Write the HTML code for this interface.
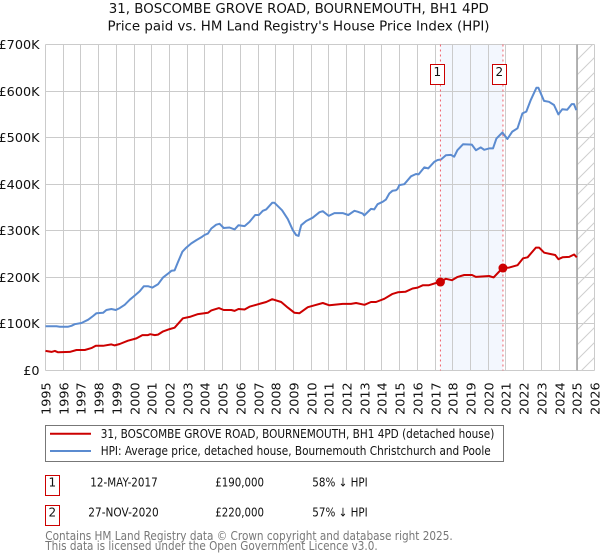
<!DOCTYPE html>
<html lang="en">
<head>
<meta charset="utf-8">
<title>31, Boscombe Grove Road price chart</title>
<style>
html,body{margin:0;padding:0;background:#fff;width:600px;height:560px;overflow:hidden}
svg{display:block}
text{font-family:"DejaVu Sans","Liberation Sans",sans-serif;fill:#111}
</style>
</head>
<body>
<svg id="chart" width="600" height="560" viewBox="0 0 600 560" xmlns="http://www.w3.org/2000/svg">
  <defs>
    <pattern id="hatch" width="15" height="15" patternUnits="userSpaceOnUse" patternTransform="translate(578 44)">
      <path d="M-1 16L16 -1M-1 1L1 -1M14 16L16 14" stroke="#cfcfcf" stroke-width="1" fill="none"/>
    </pattern>
  </defs>
  <text x="298.8" y="13" font-size="13" text-anchor="middle" textLength="380" lengthAdjust="spacingAndGlyphs">31, BOSCOMBE GROVE ROAD, BOURNEMOUTH, BH1 4PD</text>
  <text x="298.5" y="30.5" font-size="13" text-anchor="middle" textLength="382" lengthAdjust="spacingAndGlyphs">Price paid vs. HM Land Registry's House Price Index (HPI)</text>
  <g id="bands"></g>
  <g id="grid"></g>
  <g id="axes"></g>
  <g id="series"></g>
  <g id="annotations"></g>

  <g>
    <rect x="45.5" y="425.5" width="458" height="36" fill="#fff" stroke="#777" stroke-width="1"/>
    <line x1="50" y1="433.7" x2="91" y2="433.7" stroke="#cc0000" stroke-width="2"/>
    <text x="100.7" y="438" font-size="12" textLength="393.6" lengthAdjust="spacingAndGlyphs">31, BOSCOMBE GROVE ROAD, BOURNEMOUTH, BH1 4PD (detached house)</text>
    <line x1="50" y1="451" x2="91" y2="451" stroke="#5b8bd0" stroke-width="2"/>
    <text x="100.7" y="455" font-size="12" textLength="390" lengthAdjust="spacingAndGlyphs">HPI: Average price, detached house, Bournemouth Christchurch and Poole</text>
  </g>

  <g>
    <rect x="45.5" y="475.5" width="14" height="20" fill="#fff" stroke="#cc0000" stroke-width="1"/>
    <text x="52.3" y="486.5" font-size="12" text-anchor="middle">1</text>
    <text x="124" y="486.5" font-size="12" text-anchor="middle" textLength="67.4" lengthAdjust="spacingAndGlyphs">12-MAY-2017</text>
    <text x="215.3" y="486.5" font-size="12" textLength="48.7" lengthAdjust="spacingAndGlyphs">£190,000</text>
    <text x="312.3" y="486.5" font-size="12" textLength="55.4" lengthAdjust="spacingAndGlyphs">58% ↓ HPI</text>
  </g>
  <g>
    <rect x="45.5" y="505.5" width="14" height="20" fill="#fff" stroke="#cc0000" stroke-width="1"/>
    <text x="52.3" y="516.5" font-size="12" text-anchor="middle">2</text>
    <text x="123.5" y="516.5" font-size="12" text-anchor="middle" textLength="70.4" lengthAdjust="spacingAndGlyphs">27-NOV-2020</text>
    <text x="215.3" y="516.5" font-size="12" textLength="48.7" lengthAdjust="spacingAndGlyphs">£220,000</text>
    <text x="312.3" y="516.5" font-size="12" textLength="55.4" lengthAdjust="spacingAndGlyphs">57% ↓ HPI</text>
  </g>

  <text x="45.3" y="540" font-size="12" style="fill:#777" textLength="407.4" lengthAdjust="spacingAndGlyphs">Contains HM Land Registry data © Crown copyright and database right 2025.</text>
  <text x="45.3" y="550" font-size="12" style="fill:#777" textLength="332.4" lengthAdjust="spacingAndGlyphs">This data is licensed under the Open Government Licence v3.0.</text>
</svg>
<script>
const yearTicks = [1995,1996,1997,1998,1999,2000,2001,2002,2003,2004,2005,2006,2007,2008,2009,2010,2011,2012,2013,2014,2015,2016,2017,2018,2019,2020,2021,2022,2023,2024,2025,2026];
const valueTicks = [0,100,200,300,400,500,600,700];
const valueTickLabels = ['£0','£100K','£200K','£300K','£400K','£500K','£600K','£700K'];

const hpiYears = [1995.00,1995.62,1995.81,1996.28,1996.47,1996.65,1997.03,1997.41,1997.69,1997.88,1998.25,1998.44,1998.72,1998.97,1999.19,1999.47,1999.76,2000.04,2000.32,2000.55,2000.79,2001.03,2001.35,2001.64,2001.92,2002.11,2002.29,2002.48,2002.73,2002.95,2003.23,2003.52,2003.80,2003.98,2004.17,2004.36,2004.64,2004.83,2005.06,2005.39,2005.68,2005.90,2006.24,2006.52,2006.84,2007.05,2007.27,2007.46,2007.80,2007.93,2008.36,2008.68,2008.97,2009.15,2009.29,2009.34,2009.44,2009.72,2010.09,2010.47,2010.66,2010.99,2011.31,2011.78,2012.10,2012.44,2012.62,2012.91,2013.00,2013.38,2013.56,2013.75,2014.03,2014.22,2014.41,2014.60,2014.79,2014.88,2014.98,2015.26,2015.64,2015.92,2016.07,2016.39,2016.61,2016.95,2017.14,2017.33,2017.61,2017.89,2018.08,2018.26,2018.58,2019.07,2019.30,2019.58,2019.77,2020.05,2020.27,2020.46,2020.80,2021.08,2021.36,2021.65,2021.93,2022.15,2022.40,2022.72,2022.83,2023.15,2023.43,2023.71,2023.96,2024.18,2024.46,2024.71,2024.84,2024.97];
const hpiValues = [95,95,94,94,96,99.5,102,109,117,123,124,130,132,130,134,141,152,161,170,181,181,178,185,200,208,214,215,233,255,264,273,280,286,291,294,305,313,315,306,307,303,312,310,319,334,334,343,346,360,360,344,325,301,291,289,298,312,321,328,340,342,332,338,338,334,343,341,337,333,347,346,357,362,367,380,386,387,390,398,400,417,422,421,436,434,448,452,453,462,463,459,473,486,485,473,479,474,477,477,498,511,497,513,520,552,556,581,607,607,579,577,570,550,561,560,572,572,559];

const paidYears = [1995.00,1995.34,1995.53,1995.71,1996.37,1996.75,1997.22,1997.59,1997.84,1998.25,1998.72,1998.91,1999.19,1999.66,2000.13,2000.47,2000.79,2000.92,2001.17,2001.35,2001.64,2002.01,2002.29,2002.76,2003.14,2003.61,2004.17,2004.36,2004.79,2005.06,2005.49,2005.68,2005.90,2006.24,2006.52,2006.90,2007.18,2007.46,2007.80,2008.31,2008.68,2009.06,2009.34,2009.81,2010.19,2010.66,2011.03,2011.78,2012.25,2012.54,2013.01,2013.38,2013.66,2014.13,2014.57,2014.89,2015.32,2015.73,2016.01,2016.30,2016.63,2017.23,2017.61,2017.95,2018.27,2018.64,2019.08,2019.30,2020.05,2020.30,2020.81,2021.18,2021.65,2021.97,2022.22,2022.69,2022.87,2023.16,2023.78,2023.96,2024.19,2024.57,2024.85,2025.00];
const paidValues = [42,40,42,39,40,44,44,48,53,53,56,54,57,64,69,76,76,78,76,77,84,89,92,112,115,121,124,129,134,130,130,128,132,131,137,141,144,147,153,147,135,124,123,136,140,145,140,143,143,145,141,147,147,154,164,168,169,176,178,183,183,190,197,194,201,205,205,201,203,200,220,221,226,241,243,264,264,253,248,239,243,244,249,243];

const saleLabels = ['1','2'];
const saleYears = [2017.30,2020.83];
const saleValues = [190,220];
const dataEndYear = 2025.02;

const xOrigin = 45.5, xPerYear = 17.71, yOrigin = 370.5, yPerK = 326 / 700;
const plotTop = 44.5, plotBottom = 370.5, plotRight = 594.5;
const xScale = y => xOrigin + (y - 1995) * xPerYear;
const yScale = v => yOrigin - v * yPerK;
const crisp = p => Math.floor(p) + 0.5;
const NS = 'http://www.w3.org/2000/svg';
function mk(tag, attrs, parent, txt) {
  const el = document.createElementNS(NS, tag);
  for (const k in attrs) el.setAttribute(k, attrs[k]);
  if (txt !== undefined) el.textContent = txt;
  parent.appendChild(el);
  return el;
}
const bands = document.getElementById('bands');
const grid = document.getElementById('grid');
const axes = document.getElementById('axes');
const series = document.getElementById('series');
const annotations = document.getElementById('annotations');

const band = mk('rect', {x: xScale(saleYears[0]), y: plotTop, width: xScale(saleYears[1]) - xScale(saleYears[0]), height: plotBottom - plotTop, fill: '#f3f7fe'}, bands);



yearTicks.forEach(t => {
  const x = crisp(xScale(t));
  const gl = mk('line', {x1: x, x2: x, y1: plotTop, y2: plotBottom, stroke: '#cbcbcb', 'stroke-width': 1}, grid);
  
  
  const lb = mk('text', {x: x + 5, y: 382.3, 'font-size': 12.8, 'text-anchor': 'end', transform: 'rotate(-90 ' + (x + 5) + ' 382.3)'}, axes, String(t));
  
  
});
valueTicks.forEach((v, i) => {
  const y = crisp(yScale(v));
  const gl = mk('line', {x1: xOrigin, x2: plotRight, y1: y, y2: y, stroke: '#cbcbcb', 'stroke-width': 1}, grid);
  
  
  const lb = mk('text', {x: 39.5, y: y + 4.7, 'font-size': 12.8, 'text-anchor': 'end'}, axes, valueTickLabels[i]);
  
  
});

const endX = xScale(dataEndYear);
const hatch = mk('rect', {x: endX, y: plotTop, width: plotRight - endX, height: plotBottom - plotTop, fill: 'url(#hatch)'}, grid);


const endLine = mk('line', {x1: endX, x2: endX, y1: plotTop, y2: plotBottom, stroke: '#a6a6a6', 'stroke-width': 1.5}, grid);



const toPts = (xs, ys) => xs.map((t, i) => xScale(t).toFixed(1) + ',' + yScale(ys[i]).toFixed(1)).join(' ');
const hpiLine = mk('polyline', {points: toPts(hpiYears, hpiValues), fill: 'none', stroke: '#5b8bd0', 'stroke-width': 2, 'stroke-linejoin': 'round'}, series);


const paidLine = mk('polyline', {points: toPts(paidYears, paidValues), fill: 'none', stroke: '#cc0000', 'stroke-width': 2, 'stroke-linejoin': 'round'}, series);



saleYears.forEach((t, i) => {
  const x = xScale(t);
  const vl = mk('line', {x1: x, x2: x, y1: plotTop, y2: plotBottom, stroke: '#f0606a', 'stroke-width': 1, 'stroke-dasharray': '2 3'}, annotations);
  
  
  const box = mk('rect', {x: Math.floor(x) - 9.5, y: 64.5, width: 14, height: 20, fill: '#fff', stroke: '#cc0000', 'stroke-width': 1}, annotations);
  
  
  const lb = mk('text', {x: Math.floor(x) - 2.7, y: 76, 'font-size': 12, 'text-anchor': 'middle'}, annotations, saleLabels[i]);
  
  
  const dot = mk('circle', {cx: x, cy: yScale(saleValues[i]), r: 4.5, fill: '#cc0000'}, annotations);
  
  
});
</script>
</body>
</html>
